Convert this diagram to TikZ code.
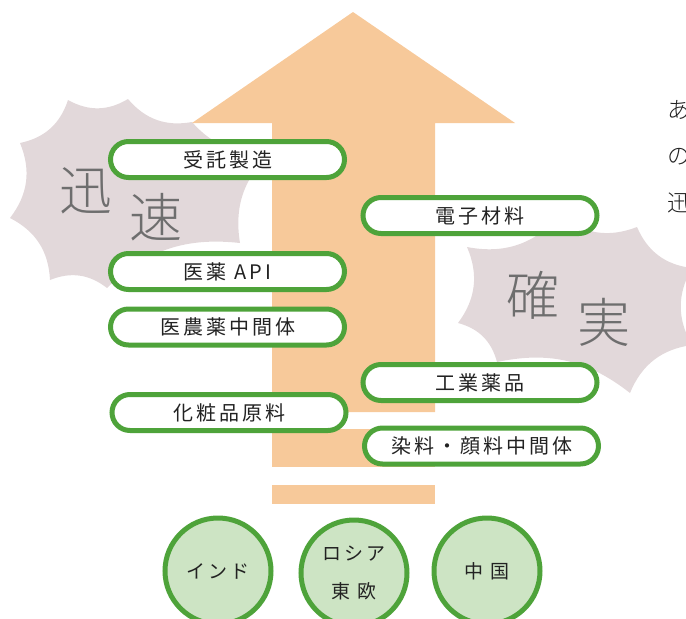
\documentclass[tikz,border=0pt]{standalone}
\usepackage{fontspec}
\newfontfamily\jp{Noto Sans CJK JP}
\newfontfamily\jpl{Noto Sans CJK JP Light}
\newfontfamily\jpsp{Noto Sans CJK JP}[LetterSpace=15]
\definecolor{arrowor}{HTML}{F7C99A}
\definecolor{boxgreen}{HTML}{4EA33A}
\definecolor{circfill}{HTML}{CDE4C4}
\definecolor{burstc}{HTML}{E2D8DA}
\definecolor{bigtxt}{HTML}{6E6E6E}
\definecolor{txt}{HTML}{222222}
\tikzset{
  itembox/.style={draw=boxgreen, line width=5pt, fill=white, rounded corners=18pt,
    minimum width=234pt, minimum height=36pt, inner sep=0pt,
    font=\jpsp\fontsize{20}{24}\selectfont, text=txt},
  region/.style={circle, draw=boxgreen, line width=5pt, fill=circfill,
    minimum size=106pt, inner sep=0pt, align=center,
    font=\jpsp\fontsize{19}{38}\selectfont, text=txt},
  bigchar/.style={font=\jpl\fontsize{53}{56}\selectfont, text=bigtxt, inner sep=0pt},
  sidetxt/.style={font=\jpl\fontsize{23}{26}\selectfont, text=txt, anchor=west, inner sep=0pt},
  burst/.style={fill=burstc, draw=none}
}
\begin{document}
\begin{tikzpicture}[x=1pt,y=-1pt]
\useasboundingbox (0,0) rectangle (686,619);
\clip (0,0) rectangle (686,619);
% bursts
\fill[burst] (68,100) to[bend right=30] (128,99) to[bend right=30] (192,122)
  to[bend right=30] (275,150) to[bend right=30] (240,243) to[bend right=25] (107,288)
  to[bend right=30] (50,280) to[bend right=30] (10,218) to[bend right=30] (20,143)
  to[bend right=30] cycle;
\fill[burst] (560,215) to[bend right=30] (637,227) to[bend right=30] (692,268)
  to[bend right=30] (692,345) to[bend right=30] (630,393) to[bend right=25] (497,362)
  to[bend right=30] (458,323) to[bend right=30] (467,247) to[bend right=30] cycle;
% arrow
\fill[arrowor] (353,12) -- (515,123) -- (435,123) -- (435,412) -- (272,412)
  -- (272,123) -- (192,123) -- cycle;
\fill[arrowor] (272,429) rectangle (435,467);
\fill[arrowor] (272,485) rectangle (435,504);
% big characters
\node[bigchar] (c1) at (86,191) {迅};
\node[bigchar] (c2) at (156,217) {速};
\node[bigchar] (c3) at (533,295) {確};
\node[bigchar] (c4) at (604,322) {実};
% item boxes
\node[itembox] (b1) at (227.5,159.5) {受託製造};
\node[itembox] (b2) at (227.5,271.5) {医薬 API};
\node[itembox] (b3) at (227.5,327) {医農薬中間体};
\node[itembox] (b4) at (229,412.5) {化粧品原料};
\node[itembox] (b5) at (480,215.5) {電子材料};
\node[itembox] (b6) at (480,382.5) {工業薬品};
\node[itembox] (b7) at (481.5,446) {染料・顔料中間体};
% regions
\node[region] (r1) at (218,571) {インド};
\node[region] (r2) at (354,573) {ロシア\\東 欧};
\node[region] (r3) at (487,571) {中 国};
% side text (cut off at right edge, as in the reference)
\node[sidetxt] (s1) at (667,110) {あ};
\node[sidetxt] (s2) at (667,157) {の};
\node[sidetxt] (s3) at (667,203) {迅};
\end{tikzpicture}
\end{document}
